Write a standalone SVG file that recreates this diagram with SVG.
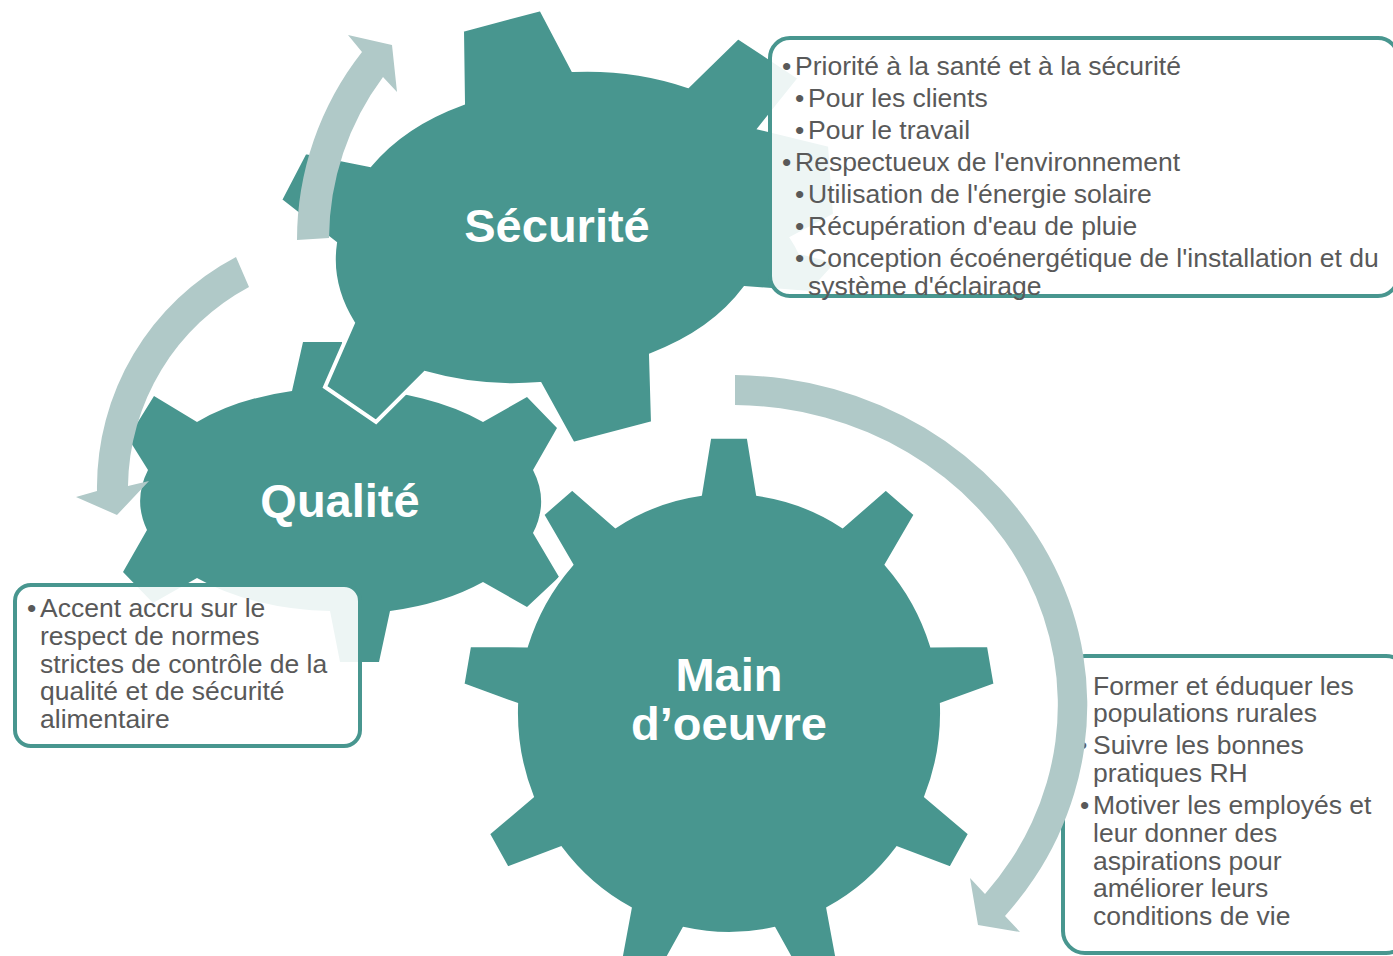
<svg xmlns="http://www.w3.org/2000/svg" width="1393" height="956" viewBox="0 0 1393 956">
<style>
.gear{fill:#48968F}
.gearo{fill:#48968F;stroke:#FFFFFF;stroke-width:4;stroke-linejoin:miter}
.lbl{font-family:"Liberation Sans",Arial,sans-serif;font-weight:bold;font-size:47px;fill:#FFFFFF;text-anchor:middle}
.box{fill:#FFFFFF;fill-opacity:0.9;stroke:#48968F;stroke-width:4}
.t{font-family:"Liberation Sans",Arial,sans-serif;font-size:26.5px;fill:#595959}
.arr{fill:#B0C9C8}
</style>
<rect width="1393" height="956" fill="#FFFFFF"/>
<g id="qualite">
<path class="gear" d="M292,391 L303,342 L342,342 L351,389 A198,112 0 0 1 483,422 L527,397 L557,428 L533,470 A198,112 0 0 1 533,533 L559,577 L527,607 L483,582 A198,112 0 0 1 390,611 L379,662 L340,662 L330,611 A198,112 0 0 1 197,578 L153,603 L123,572 L147,530 A198,112 0 0 1 148,470 L128,438 L154,396 L197,422 A198,112 0 0 1 292,391 Z"/>
</g>
<g id="securite">
<path class="gearo" d="M463,103 L462,30 L541,9 L573,70 A230,160 0 0 1 688,86 L738,37 L800,78 L760,128 L830,145 L835,215 L792,238 A230,160 0 0 1 800,252 L838,262 L810,293 L745,288 A230,160 0 0 1 651,355 L653,423 L573,444 L540,384 A230,160 0 0 1 425,373 L376,422 L325,387 L353,323 A230,160 0 0 1 335,243 L280,200 L305,152 L370,165 A230,160 0 0 1 463,103 Z"/>
</g>
<g id="main-oeuvre">
<path class="gearo" d="M700.1,494.1 L709.4,436.7 L748.6,436.7 L757.9,494.1 A213,221 0 0 1 842.5,526.0 L885.8,488.3 L915.9,514.4 L886.8,564.6 A213,221 0 0 1 931.8,645.4 L988.8,645.1 L995.6,685.0 L941.9,704.5 A213,221 0 0 1 926.2,796.5 L970.3,833.6 L950.7,868.7 L897.3,848.4 A213,221 0 0 1 828.3,908.5 L838.9,965.7 L802.0,979.5 L774.0,929.0 A213,221 0 0 1 684.0,929.0 L656.0,979.5 L619.1,965.7 L629.7,908.5 A213,221 0 0 1 560.7,848.4 L507.3,868.7 L487.7,833.6 L531.8,796.5 A213,221 0 0 1 516.1,704.5 L462.4,685.0 L469.2,645.1 L526.2,645.4 A213,221 0 0 1 571.2,564.6 L542.1,514.4 L572.2,488.3 L615.5,526.0 A213,221 0 0 1 700.1,494.1 Z"/>
</g>
<g id="connectors-small">
<path class="arr" d="M297,240 A304,304 0 0 1 362,52 L348,35 L392,45 L397,92 L383,77 A272,272 0 0 0 329,238 Z"/>
<path class="arr" d="M236,257 A260,260 0 0 0 97,491 L76,497 L117,515 L149,481 L128,486 A229,229 0 0 1 249,287 Z"/>
</g>
<g id="labels">
<text class="lbl" x="557" y="242">Sécurité</text>
<text class="lbl" x="340" y="517">Qualité</text>
<text class="lbl" x="729" y="691">Main</text>
<text class="lbl" x="729" y="740">d’oeuvre</text>
</g>
<g id="box-securite">
<rect class="box" x="770" y="38" width="628" height="258" rx="20"/>
<text class="t" x="782" y="75">•</text><text class="t" x="795" y="75">Priorité à la santé et à la sécurité</text>
<text class="t" x="795" y="107">•</text><text class="t" x="808" y="107">Pour les clients</text>
<text class="t" x="795" y="139">•</text><text class="t" x="808" y="139">Pour le travail</text>
<text class="t" x="782" y="171">•</text><text class="t" x="795" y="171">Respectueux de l'environnement</text>
<text class="t" x="795" y="203">•</text><text class="t" x="808" y="203">Utilisation de l'énergie solaire</text>
<text class="t" x="795" y="235">•</text><text class="t" x="808" y="235">Récupération d'eau de pluie</text>
<text class="t" x="795" y="267">•</text><text class="t" x="808" y="267">Conception écoénergétique de l'installation et du</text>
<text class="t" x="808" y="295">système d'éclairage</text>
</g>
<g id="box-qualite">
<rect class="box" x="15" y="585" width="345" height="161" rx="16"/>
<text class="t" x="27" y="617">•</text><text class="t" x="40" y="617">Accent accru sur le</text>
<text class="t" x="40" y="645">respect de normes</text>
<text class="t" x="40" y="673">strictes de contrôle de la</text>
<text class="t" x="40" y="700">qualité et de sécurité</text>
<text class="t" x="40" y="728">alimentaire</text>
</g>
<g id="box-main">
<rect class="box" x="1063" y="656" width="345" height="297" rx="22"/>
<text class="t" x="1073" y="695">•</text><text class="t" x="1093" y="695">Former et éduquer les</text>
<text class="t" x="1093" y="722">populations rurales</text>
<text class="t" x="1078" y="754">•</text><text class="t" x="1093" y="754">Suivre les bonnes</text>
<text class="t" x="1093" y="782">pratiques RH</text>
<text class="t" x="1080" y="814">•</text><text class="t" x="1093" y="814">Motiver les employés et</text>
<text class="t" x="1093" y="842">leur donner des</text>
<text class="t" x="1093" y="870">aspirations pour</text>
<text class="t" x="1093" y="897">améliorer leurs</text>
<text class="t" x="1093" y="925">conditions de vie</text>
</g>
<g id="connectors">
<path class="arr" d="M735,375 A356,330 0 0 1 1005,916 L1020,932 L978,925 L970,878 L985,894 A326,300 0 0 0 735,405 Z"/>
</g>
</svg>
